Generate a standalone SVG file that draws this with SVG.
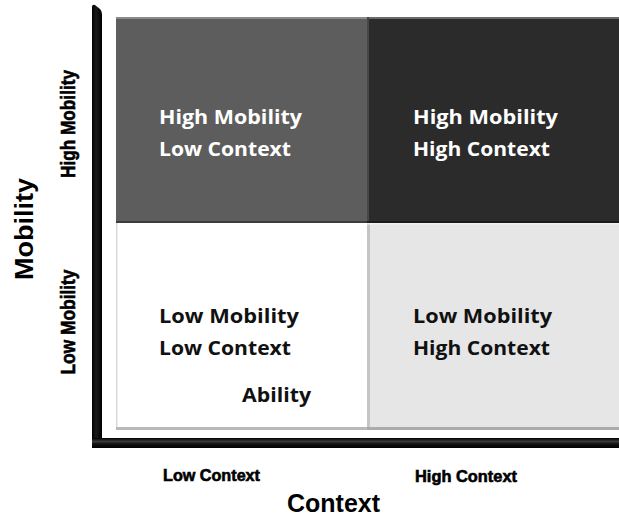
<svg xmlns="http://www.w3.org/2000/svg" width="619" height="517" viewBox="0 0 619 517">
  <defs>
    <linearGradient id="hbar" x1="0" y1="0" x2="0" y2="1">
      <stop offset="0" stop-color="#000"/>
      <stop offset="0.35" stop-color="#3a3a3a"/>
      <stop offset="0.6" stop-color="#111"/>
      <stop offset="1" stop-color="#000"/>
    </linearGradient>
    <linearGradient id="vbar" x1="0" y1="0" x2="1" y2="0">
      <stop offset="0" stop-color="#000"/>
      <stop offset="0.4" stop-color="#1a1a1a"/>
      <stop offset="1" stop-color="#000"/>
    </linearGradient>
  </defs>
  <style>
    .q { font-family: "Open Sans", "Liberation Sans", sans-serif; font-weight: bold; font-size: 19px; }
    .light { fill: #ffffff; }
    .dark { fill: #111111; }
    .ax { font-family: "Liberation Sans", Arial, sans-serif; font-weight: bold; fill: #000; }
    .heavy { stroke: #000; stroke-width: 0.6px; }
  </style>
  <rect width="619" height="517" fill="#ffffff"/>

  <g id="axes">
    <path d="M92,448 L92,7 Q92,4 95,5 L100,9 Q102,11 102,14 L102,448 Z" fill="url(#vbar)"/>
    <rect x="92" y="438" width="527" height="10" fill="url(#hbar)"/>
  </g>

  <g id="q-high-low">
    <rect x="116" y="17" width="251" height="206" fill="#5d5d5d"/>
    <rect x="116" y="17" width="251" height="2" fill="#8a8a8a"/>
    <rect x="116" y="221" width="251" height="2" fill="#3c3c3c"/>
    <text class="q light" x="159" y="124" textLength="143" lengthAdjust="spacingAndGlyphs">High Mobility</text>
    <text class="q light" x="159" y="156" textLength="132" lengthAdjust="spacingAndGlyphs">Low Context</text>
  </g>

  <g id="q-high-high">
    <rect x="367" y="17" width="252" height="206" fill="#2b2b2b"/>
    <rect x="367" y="17" width="252" height="2" fill="#6a6a6a"/>
    <rect x="367" y="17" width="2" height="206" fill="#474747"/>
    <rect x="367" y="221" width="252" height="2" fill="#1a1a1a"/>
    <text class="q light" x="413" y="124" textLength="145" lengthAdjust="spacingAndGlyphs">High Mobility</text>
    <text class="q light" x="413" y="156" textLength="137" lengthAdjust="spacingAndGlyphs">High Context</text>
  </g>

  <g id="q-low-low">
    <rect x="116" y="223" width="251" height="207" fill="#ffffff"/>
    <rect x="116" y="223" width="1.5" height="207" fill="#d8d8d8"/>
    <rect x="116" y="427" width="251" height="3" fill="#b8b8b8"/>
    <text class="q dark" x="159" y="323" textLength="140" lengthAdjust="spacingAndGlyphs">Low Mobility</text>
    <text class="q dark" x="159" y="355" textLength="132" lengthAdjust="spacingAndGlyphs">Low Context</text>
    <text class="q dark" x="242" y="402" textLength="69" lengthAdjust="spacingAndGlyphs">Ability</text>
  </g>

  <g id="q-low-high">
    <rect x="367" y="223" width="252" height="207" fill="#e6e6e6"/>
    <rect x="367" y="223" width="3" height="207" fill="#c4c4c4"/>
    <rect x="367" y="223" width="252" height="1.5" fill="#f0f0f0"/>
    <rect x="367" y="427" width="252" height="3" fill="#ababab"/>
    <text class="q dark" x="413" y="323" textLength="139" lengthAdjust="spacingAndGlyphs">Low Mobility</text>
    <text class="q dark" x="413" y="355" textLength="137" lengthAdjust="spacingAndGlyphs">High Context</text>
  </g>

  <g id="labels">
    <text class="ax" font-size="25" text-anchor="middle" transform="translate(33,229) rotate(-90)" textLength="102" lengthAdjust="spacingAndGlyphs">Mobility</text>
    <text class="ax heavy" font-size="20" text-anchor="middle" transform="translate(75,124) rotate(-90)" textLength="108" lengthAdjust="spacingAndGlyphs">High Mobility</text>
    <text class="ax heavy" font-size="20" text-anchor="middle" transform="translate(75,322) rotate(-90)" textLength="105" lengthAdjust="spacingAndGlyphs">Low Mobility</text>
    <text class="ax heavy" font-size="16" x="163" y="481" textLength="97" lengthAdjust="spacingAndGlyphs">Low Context</text>
    <text class="ax heavy" font-size="16" x="415" y="482" textLength="102" lengthAdjust="spacingAndGlyphs">High Context</text>
    <text class="ax" font-size="25" x="287" y="512" textLength="93" lengthAdjust="spacingAndGlyphs">Context</text>
  </g>
</svg>
